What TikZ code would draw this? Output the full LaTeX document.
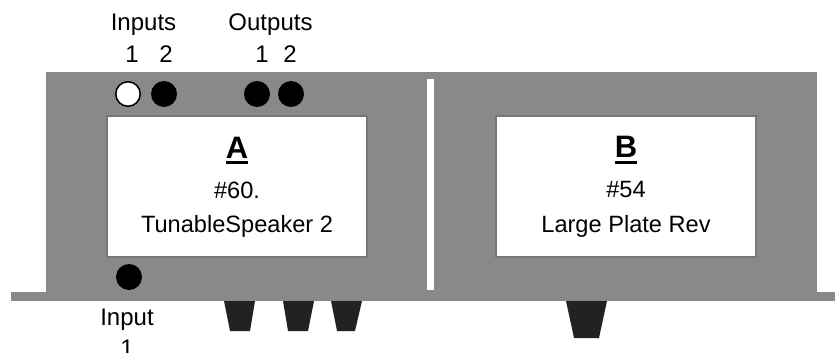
\documentclass[tikz,border=0pt]{standalone}
\usepackage{fontspec}
\setmainfont{Liberation Sans}
\definecolor{rackgray}{HTML}{898989}
\definecolor{bezelgray}{HTML}{777777}
\definecolor{footdark}{HTML}{222222}
\usepackage{tikz}
\usetikzlibrary{positioning}

\begin{document}
\begin{tikzpicture}[x=1pt,y=-1pt,
  display/.style={draw=bezelgray,line width=2pt,fill=white,minimum width=260pt,minimum height=141pt,inner sep=0pt},
  jack/.style={circle,fill=black,minimum size=26pt,inner sep=0pt},
  jackfree/.style={jack,draw=black,line width=1.5pt,fill=white,minimum size=24.5pt},
  lbl/.style={font=\fontsize{24}{28}\selectfont,anchor=base,inner sep=0pt},
  disp/.style={font=\fontsize{23.6}{28}\selectfont,anchor=base,inner sep=0pt},
  ttl/.style={font=\fontsize{31}{36}\selectfont\bfseries,anchor=base,inner sep=0pt},
  foot/.style={fill=footdark}]
  \useasboundingbox (0,0) rectangle (835,353);
  % chassis with its side rails
  \fill[rackgray] (11,292) rectangle (835,301);
  \fill[rackgray] (46,72) rectangle (817,301);
  \fill[white] (427,79) rectangle (434,290);
  % feet
  \fill[foot] (224,301) -- (255,301) -- (250,331) -- (230,331) -- cycle;
  \fill[foot] (283,301) -- (314,301) -- (308,331) -- (288,331) -- cycle;
  \fill[foot] (331,301) -- (362,301) -- (355,331) -- (337,331) -- cycle;
  \fill[foot] (566,301) -- (607,301) -- (599,338) -- (574,338) -- cycle;
  % jacks
  \node[jackfree] (in1) at (128,94) {};
  \node[jack] (in2) at (164,94) {};
  \node[jack] (out1) at (257,94) {};
  \node[jack] (out2) at (291,94) {};
  \node[jack] (inB) at (129,277) {};
  \node[lbl] (inlbl) at (143.5,31) {Inputs};
  \node[lbl] (outlbl) at (270.5,31) {Outputs};
  \node[lbl] (in1n) at (132,63) {1};
  \node[lbl] (in2n) at (166,63) {2};
  \node[lbl] (out1n) at (262,63) {1};
  \node[lbl] (out2n) at (290,63) {2};
  \node[lbl] (inBlbl) at (127,325) {Input};
  \node[lbl] (inBn) at (127,356) {1};
  % display A
  \node[display] (dispA) at (237,186.5) {};
  \node[ttl] (titleA) at (237,158) {A};
  \draw[line width=3pt] ([yshift=-4pt]titleA.base west) -- ([yshift=-4pt]titleA.base east);
  \node[disp] (numA) at (237,198) {\#60.};
  \node[disp] (nameA) at (237,232) {TunableSpeaker 2};
  % display B
  \node[display] (dispB) at (626,186.5) {};
  \node[ttl] (titleB) at (626,157) {B};
  \draw[line width=3pt] ([yshift=-5pt]titleB.base west) -- ([yshift=-5pt]titleB.base east);
  \node[disp] (numB) at (626,197) {\#54};
  \node[disp] (nameB) at (626,232) {Large Plate Rev};
\end{tikzpicture}
\end{document}
